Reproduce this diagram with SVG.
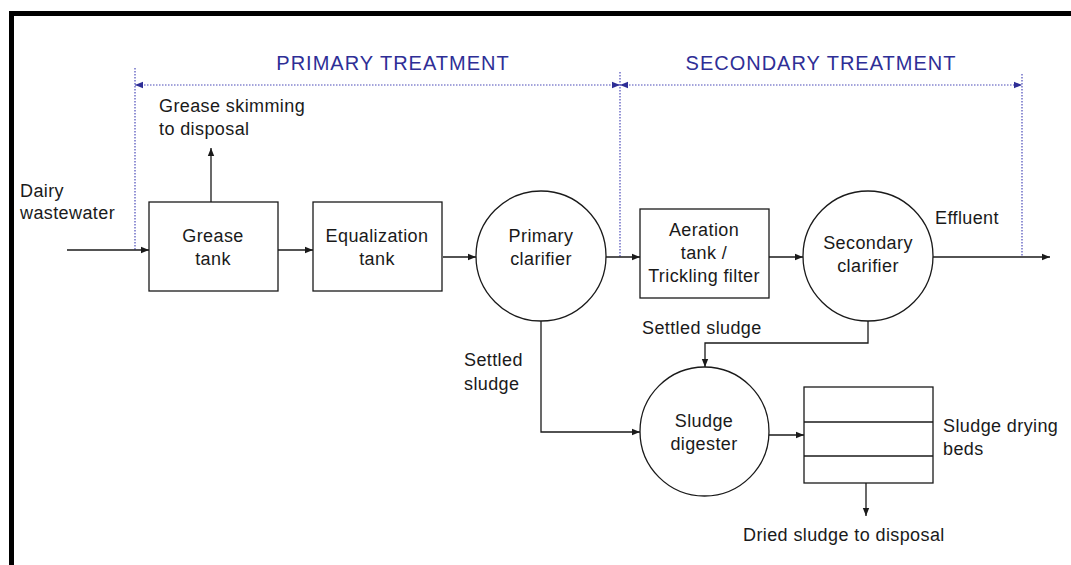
<svg xmlns="http://www.w3.org/2000/svg" width="1071" height="565" viewBox="0 0 1071 565">
  <style>
    .lbl { font-family: "Liberation Sans", Arial, sans-serif; font-size: 18px; fill: #1a1a1a; letter-spacing: 0.4px; }
    .mid { text-anchor: middle; }
    .hdr { font-family: "Liberation Sans", Arial, sans-serif; font-size: 20px; fill: #2e2e96; letter-spacing: 1px; text-anchor: middle; }
    .shape { fill: #ffffff; stroke: #1a1a1a; stroke-width: 1.3; }
    .flow { fill: none; stroke: #1a1a1a; stroke-width: 1.3; }
    .span { fill: none; stroke: #4a4ab8; stroke-width: 1.2; stroke-dasharray: 1.5 1.5; }
  </style>
  <defs>
    <marker id="arr" viewBox="0 0 10 10" refX="10" refY="5" markerWidth="8" markerHeight="8" markerUnits="userSpaceOnUse" orient="auto">
      <path d="M0,1 L10,5 L0,9 Z" fill="#1a1a1a"/>
    </marker>
    <marker id="arrB" viewBox="0 0 10 10" refX="10" refY="5" markerWidth="8" markerHeight="8" markerUnits="userSpaceOnUse" orient="auto-start-reverse">
      <path d="M0,1 L10,5 L0,9 Z" fill="#2e2e96"/>
    </marker>
  </defs>

  <rect width="1071" height="565" fill="#ffffff"/>
  <!-- frame: top and left bars -->
  <rect x="9" y="11" width="1062" height="5" fill="#000"/>
  <rect x="9" y="11" width="5" height="554" fill="#000"/>

  <!-- stage spans -->
  <g id="stages">
    <line class="span" x1="135" y1="68" x2="135" y2="250"/>
    <line class="span" x1="620" y1="72" x2="620" y2="257"/>
    <line class="span" x1="1022" y1="74" x2="1022" y2="257"/>
    <line class="span" x1="135" y1="85" x2="620" y2="85" marker-start="url(#arrB)" marker-end="url(#arrB)"/>
    <line class="span" x1="620" y1="85" x2="1022" y2="85" marker-start="url(#arrB)" marker-end="url(#arrB)"/>
    <text class="hdr" x="393" y="70">PRIMARY TREATMENT</text>
    <text class="hdr" x="821" y="70">SECONDARY TREATMENT</text>
  </g>

  <!-- connectors -->
  <g id="connectors">
    <line class="flow" x1="67" y1="250" x2="149" y2="250" marker-end="url(#arr)"/>
    <line class="flow" x1="211" y1="202" x2="211" y2="148" marker-end="url(#arr)"/>
    <line class="flow" x1="278" y1="250" x2="313" y2="250" marker-end="url(#arr)"/>
    <line class="flow" x1="443" y1="257" x2="476" y2="257" marker-end="url(#arr)"/>
    <line class="flow" x1="606" y1="257" x2="640" y2="257" marker-end="url(#arr)"/>
    <line class="flow" x1="769" y1="257" x2="803" y2="257" marker-end="url(#arr)"/>
    <line class="flow" x1="933" y1="257" x2="1050" y2="257" marker-end="url(#arr)"/>
    <polyline class="flow" points="541,321 541,432 640,432" marker-end="url(#arr)"/>
    <polyline class="flow" points="868,319 868,343 705,343 705,367" marker-end="url(#arr)"/>
    <line class="flow" x1="769" y1="435" x2="804" y2="435" marker-end="url(#arr)"/>
    <line class="flow" x1="866" y1="483" x2="866" y2="516" marker-end="url(#arr)"/>
  </g>

  <!-- free labels -->
  <g id="labels">
    <text class="lbl" x="20" y="197">Dairy</text>
    <text class="lbl" x="20" y="219">wastewater</text>
    <text class="lbl" x="159" y="112">Grease skimming</text>
    <text class="lbl" x="159" y="135">to disposal</text>
    <text class="lbl" x="935" y="224">Effluent</text>
    <text class="lbl" x="642" y="334">Settled sludge</text>
    <text class="lbl" x="464" y="366">Settled</text>
    <text class="lbl" x="464" y="390">sludge</text>
    <text class="lbl" x="943" y="432">Sludge drying</text>
    <text class="lbl" x="943" y="455">beds</text>
    <text class="lbl" x="743" y="541">Dried sludge to disposal</text>
  </g>

  <g id="grease-tank">
    <rect class="shape" x="149" y="202" width="129" height="89"/>
    <text class="lbl mid" x="213" y="242">Grease</text>
    <text class="lbl mid" x="213" y="265">tank</text>
  </g>

  <g id="equalization-tank">
    <rect class="shape" x="313" y="202" width="129" height="89"/>
    <text class="lbl mid" x="377" y="242">Equalization</text>
    <text class="lbl mid" x="377" y="265">tank</text>
  </g>

  <g id="primary-clarifier">
    <circle class="shape" cx="541" cy="256" r="65"/>
    <text class="lbl mid" x="541" y="242">Primary</text>
    <text class="lbl mid" x="541" y="265">clarifier</text>
  </g>

  <g id="aeration-tank">
    <rect class="shape" x="640" y="209" width="129" height="89"/>
    <text class="lbl mid" x="704" y="236">Aeration</text>
    <text class="lbl mid" x="704" y="259">tank /</text>
    <text class="lbl mid" x="704" y="282">Trickling filter</text>
  </g>

  <g id="secondary-clarifier">
    <circle class="shape" cx="868" cy="256" r="65"/>
    <text class="lbl mid" x="868" y="249">Secondary</text>
    <text class="lbl mid" x="868" y="272">clarifier</text>
  </g>

  <g id="sludge-digester">
    <circle class="shape" cx="704.5" cy="431.5" r="64.5"/>
    <text class="lbl mid" x="704" y="427">Sludge</text>
    <text class="lbl mid" x="704" y="450">digester</text>
  </g>

  <g id="sludge-drying-beds">
    <rect class="shape" x="804" y="387" width="129" height="96"/>
    <line class="flow" x1="804" y1="422" x2="933" y2="422"/>
    <line class="flow" x1="804" y1="456" x2="933" y2="456"/>
  </g>
</svg>
